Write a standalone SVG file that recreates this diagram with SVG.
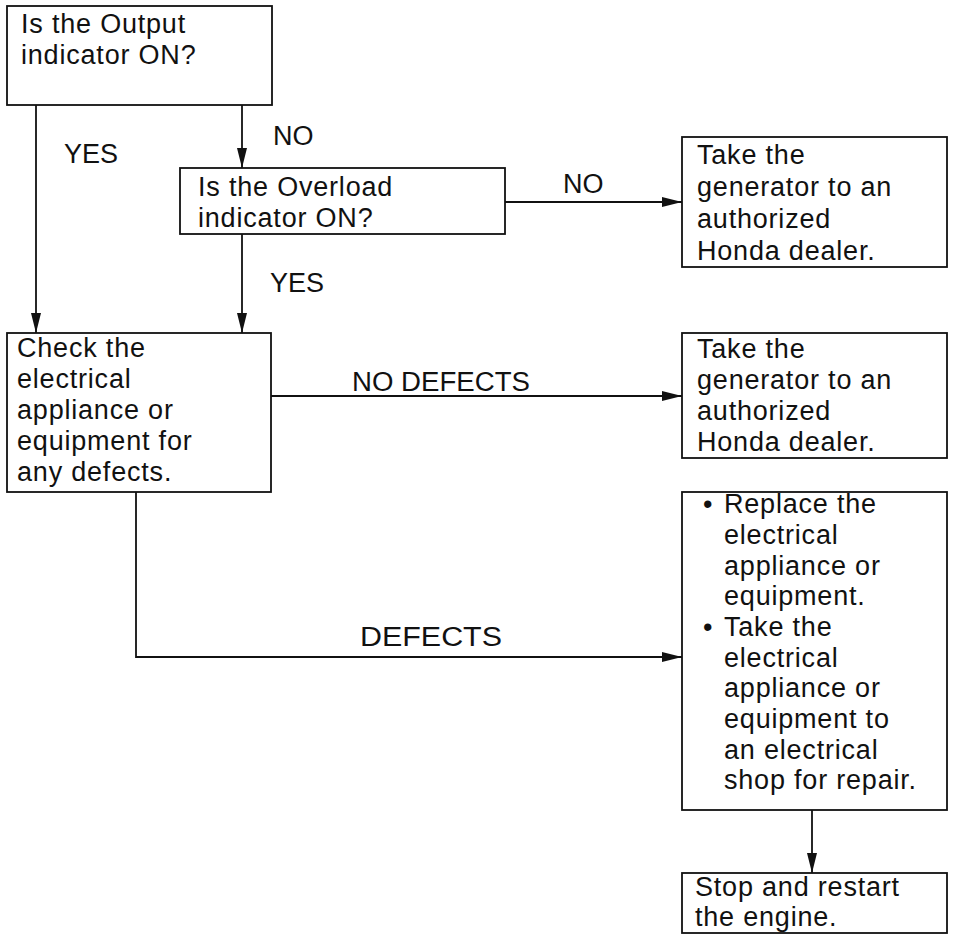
<svg xmlns="http://www.w3.org/2000/svg" width="953" height="938" viewBox="0 0 953 938">
<defs>
<style>
.box{fill:#fff;stroke:#111;stroke-width:1.8}
.t{font-family:"Liberation Sans",Arial,sans-serif;font-size:27px;fill:#111;letter-spacing:0.8px}
.l{font-family:"Liberation Sans",Arial,sans-serif;font-size:27px;fill:#111}
.c{fill:none;stroke:#111;stroke-width:1.8}
</style>
<marker id="arr" markerUnits="userSpaceOnUse" markerWidth="20" markerHeight="12" refX="20" refY="6" orient="auto">
<path d="M0,1 L20,6 L0,11 Z" fill="#111"/>
</marker>
</defs>
<rect width="953" height="938" fill="#fff"/>
<g id="connectors">
<path class="c" d="M36,105 V333" marker-end="url(#arr)"/>
<path class="c" d="M242,105 V168" marker-end="url(#arr)"/>
<path class="c" d="M242,234 V333" marker-end="url(#arr)"/>
<path class="c" d="M505,202 H682" marker-end="url(#arr)"/>
<path class="c" d="M271,396 H682" marker-end="url(#arr)"/>
<path class="c" d="M136,492 V657 H682" marker-end="url(#arr)"/>
<path class="c" d="M812,810 V873" marker-end="url(#arr)"/>
<text class="l" x="64" y="163">YES</text>
<text class="l" x="273" y="145">NO</text>
<text class="l" x="563" y="193">NO</text>
<text class="l" x="270" y="292">YES</text>
<text class="l" x="352" y="391" textLength="178" lengthAdjust="spacingAndGlyphs">NO DEFECTS</text>
<text class="l" x="360" y="646" textLength="142" lengthAdjust="spacingAndGlyphs">DEFECTS</text>
</g>
<g id="output">
<rect class="box" x="7" y="6" width="265" height="99"/>
<text class="t" x="21" y="33">Is the Output</text>
<text class="t" x="21" y="64">indicator ON?</text>
</g>
<g id="overload">
<rect class="box" x="180" y="168" width="325" height="66"/>
<text class="t" x="198" y="196">Is the Overload</text>
<text class="t" x="198" y="227">indicator ON?</text>
</g>
<g id="dealer1">
<rect class="box" x="682" y="137" width="265" height="130"/>
<text class="t" x="697" y="164">Take the</text>
<text class="t" x="697" y="196">generator to an</text>
<text class="t" x="697" y="228">authorized</text>
<text class="t" x="697" y="260">Honda dealer.</text>
</g>
<g id="check">
<rect class="box" x="7" y="333" width="264" height="159"/>
<text class="t" x="17" y="357">Check the</text>
<text class="t" x="17" y="388">electrical</text>
<text class="t" x="17" y="419">appliance or</text>
<text class="t" x="17" y="450">equipment for</text>
<text class="t" x="17" y="481">any defects.</text>
</g>
<g id="dealer2">
<rect class="box" x="682" y="333" width="265" height="125"/>
<text class="t" x="697" y="358">Take the</text>
<text class="t" x="697" y="389">generator to an</text>
<text class="t" x="697" y="420">authorized</text>
<text class="t" x="697" y="451">Honda dealer.</text>
</g>
<g id="replace">
<rect class="box" x="682" y="492" width="265" height="318"/>
<text class="t" x="703" y="513">•</text>
<text class="t" x="724" y="513">Replace the</text>
<text class="t" x="724" y="544">electrical</text>
<text class="t" x="724" y="575">appliance or</text>
<text class="t" x="724" y="605">equipment.</text>
<text class="t" x="703" y="636">•</text>
<text class="t" x="724" y="636">Take the</text>
<text class="t" x="724" y="667">electrical</text>
<text class="t" x="724" y="697">appliance or</text>
<text class="t" x="724" y="728">equipment to</text>
<text class="t" x="724" y="759">an electrical</text>
<text class="t" x="724" y="789">shop for repair.</text>
</g>
<g id="restart">
<rect class="box" x="682" y="873" width="265" height="60"/>
<text class="t" x="695" y="896">Stop and restart</text>
<text class="t" x="695" y="926">the engine.</text>
</g>
</svg>
